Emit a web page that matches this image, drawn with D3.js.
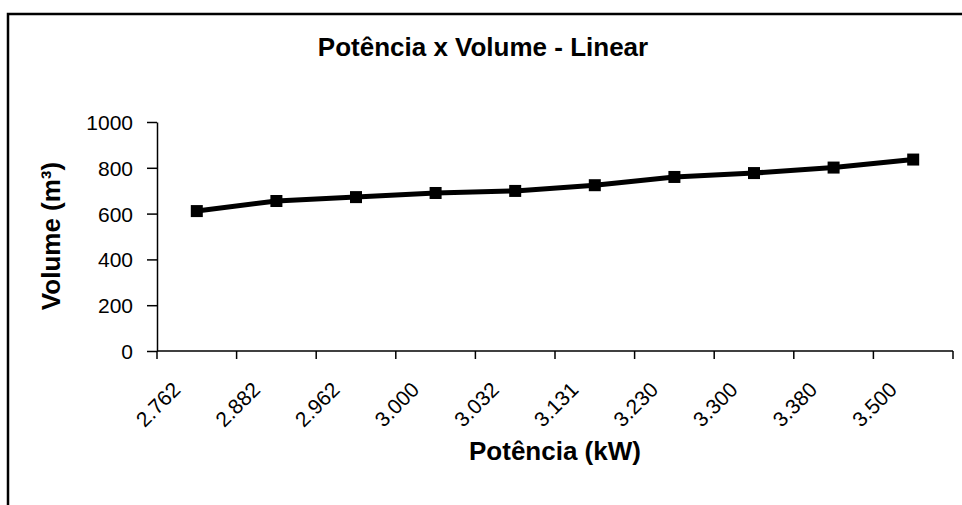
<!DOCTYPE html>
<html lang="pt">
  <head>
    <meta charset="UTF-8" />
    <title>Potência x Volume - Linear</title>
    <script src="https://d3js.org/d3.v7.min.js"></script>
    <style>
      body {
        margin: 0;
        background: #ffffff;
      }
      svg {
        display: block;
        font-family: Arial, "Liberation Sans", sans-serif;
      }
      .axis path,
      .axis line {
        stroke: #000;
        stroke-width: 1.5px;
      }
      .axis text {
        font-size: 21px;
        fill: #000;
      }
      .title {
        font-size: 26px;
        font-weight: bold;
      }
    </style>
  </head>
  <body>
    <svg id="chart"></svg>
  </body>
  <script>
    // potência (kW) as category labels, volume in m³
    const potencia = ["2.762", "2.882", "2.962", "3.000", "3.032", "3.131", "3.230", "3.300", "3.380", "3.500"];
    const volume = [611, 655, 672, 690, 699, 724, 760, 777, 801, 836];
    const yTicks = [0, 200, 400, 600, 800, 1000];

    const width = 962;
    const height = 505;
    const plot = { left: 157, right: 953, top: 122, bottom: 351 };

    const svg = d3.select("#chart").attr("width", width).attr("height", height);

    // chart frame (only top and left edges are visible)
    svg
      .append("rect")
      .attr("x", 8)
      .attr("y", 14)
      .attr("width", width + 20)
      .attr("height", height + 20)
      .attr("fill", "none")
      .attr("stroke", "#000")
      .attr("stroke-width", 2.5);

    const x = d3.scaleBand().domain(potencia).range([plot.left, plot.right]);
    const y = d3.scaleLinear().domain([0, 1000]).range([plot.bottom, plot.top]);

    // y axis
    const yAxis = svg
      .append("g")
      .attr("class", "axis")
      .attr("transform", `translate(${plot.left},0)`)
      .call(
        d3
          .axisLeft(y)
          .tickValues(yTicks)
          .tickFormat(d3.format("d"))
          .tickSize(10)
          .tickSizeOuter(0)
          .tickPadding(14)
      );
    yAxis.selectAll("text").attr("dy", "0.36em");

    // x axis: ticks on category boundaries
    const xAxis = svg
      .append("g")
      .attr("class", "axis")
      .attr("transform", `translate(0,${plot.bottom})`);
    xAxis
      .append("line")
      .attr("x1", plot.left)
      .attr("x2", plot.right)
      .attr("y1", 0)
      .attr("y2", 0);
    const bounds = potencia.map((d) => x(d)).concat([plot.right]);
    xAxis
      .selectAll(".tick")
      .data(bounds)
      .enter()
      .append("line")
      .attr("x1", (d) => d)
      .attr("x2", (d) => d)
      .attr("y1", 0)
      .attr("y2", 8);
    xAxis
      .selectAll(".lbl")
      .data(potencia)
      .enter()
      .append("text")
      .attr("text-anchor", "end")
      .attr(
        "transform",
        (d) => `translate(${x(d) + x.bandwidth() / 2 - 15},40) rotate(-45)`
      )
      .text((d) => d);

    // line + square markers
    const pts = potencia.map((d, i) => ({ k: d, v: volume[i] }));
    const line = d3
      .line()
      .x((d) => x(d.k) + x.bandwidth() / 2)
      .y((d) => y(d.v));

    svg
      .append("path")
      .datum(pts)
      .attr("d", line)
      .attr("fill", "none")
      .attr("stroke", "#000")
      .attr("stroke-width", 5)
      .attr("stroke-linejoin", "round");

    svg
      .append("g")
      .selectAll("rect")
      .data(pts)
      .enter()
      .append("rect")
      .attr("x", (d) => x(d.k) + x.bandwidth() / 2 - 6)
      .attr("y", (d) => y(d.v) - 6)
      .attr("width", 12)
      .attr("height", 12)
      .attr("fill", "#000");

    // titles
    svg
      .append("text")
      .attr("class", "title")
      .attr("x", 483)
      .attr("y", 56)
      .attr("text-anchor", "middle")
      .text("Potência x Volume - Linear");

    svg
      .append("text")
      .attr("class", "title")
      .attr("x", (plot.left + plot.right) / 2)
      .attr("y", 460)
      .attr("text-anchor", "middle")
      .text("Potência (kW)");

    svg
      .append("text")
      .attr("class", "title")
      .attr("transform", "translate(60,236) rotate(-90)")
      .attr("text-anchor", "middle")
      .text("Volume (m³)");
  </script>
</html>
